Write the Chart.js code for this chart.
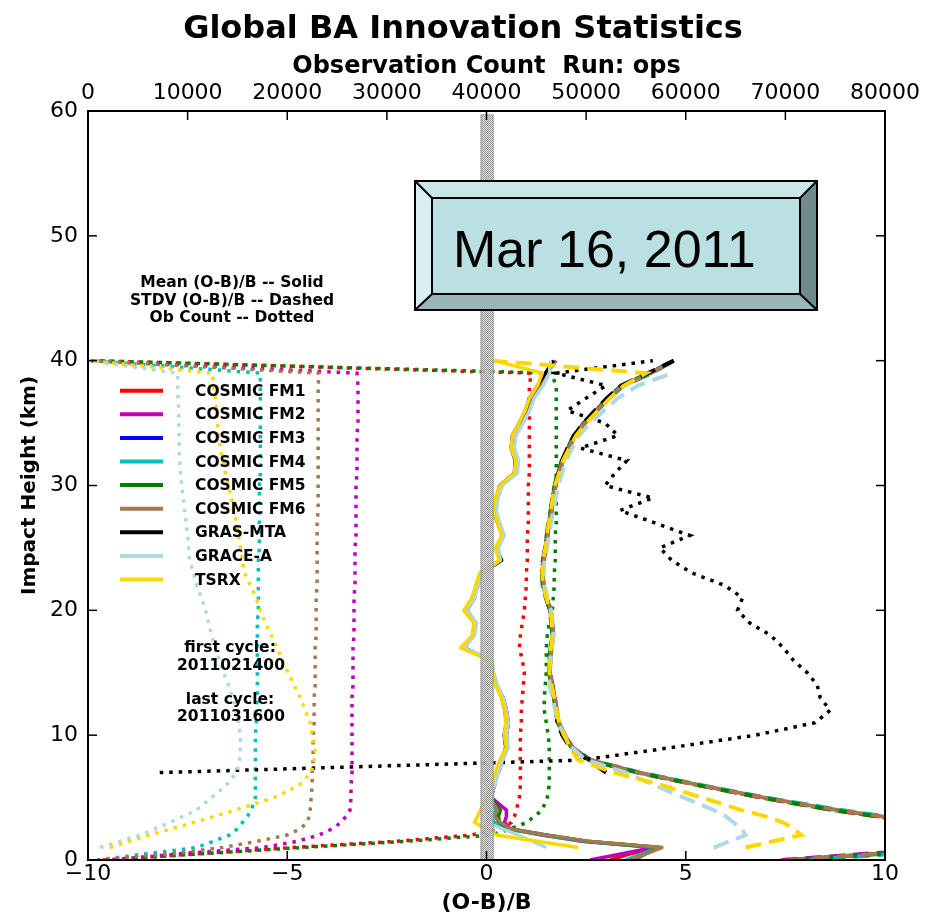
<!DOCTYPE html>
<html><head><meta charset="utf-8">
<script src="https://cdn.jsdelivr.net/npm/chart.js@4.4.1/dist/chart.umd.min.js"></script>
<style>html,body{margin:0;padding:0;background:#fff;}canvas{display:block;}</style>
</head><body>
<canvas id="c" width="938" height="916"></canvas>
<script>
// ---------- DATA ----------
// Impact height grid (km)
const heights = [0,0.5,1,1.5,2,2.5,3,3.5,4,5,6,7,8,9,10,11,12,13,14,15,16,17,18,19,20,21,22,23,24,25,26,27,28,29,30,31,32,33,34,35,36,37,38,39,40];

const satNames = ['COSMIC FM1','COSMIC FM2','COSMIC FM3','COSMIC FM4','COSMIC FM5','COSMIC FM6','GRAS-MTA','GRACE-A','TSRX'];

// Mean (O-B)/B
const meanFM1 = [3.1,3.6,4.3,2.5,1.45,0.55,0.3,0.25,0.3, 0.1,0.2,0.28,0.38,0.48,0.45,0.5,0.46,0.38,0.25,0.16,0.12,-0.58,-0.33,-0.28,-0.52,-0.33,-0.22,-0.12,0.34,0.26,0.42,0.3,0.22,0.27,0.38,0.74,0.76,0.66,0.7,0.88,1.02,1.12,1.32,1.5,1.72];
const meanFM2 = [2.6,3.4,4.2,2.4,1.4,0.6,0.45,0.5,0.5, 0.12,0.2,0.27,0.36,0.5,0.44,0.5,0.47,0.4,0.24,0.15,0.11,-0.6,-0.34,-0.3,-0.53,-0.34,-0.24,-0.13,0.35,0.25,0.4,0.31,0.21,0.26,0.36,0.73,0.75,0.64,0.69,0.86,1.0,1.1,1.3,1.48,1.75];
const meanFM3 = [];
const meanFM4 = [3.5,3.9,4.3,2.45,1.4,0.5,0.2,0.1,0.25, 0.08,0.18,0.27,0.37,0.49,0.46,0.51,0.48,0.39,0.26,0.16,0.12,-0.57,-0.32,-0.27,-0.5,-0.32,-0.22,-0.11,0.36,0.27,0.43,0.32,0.23,0.28,0.38,0.75,0.78,0.68,0.72,0.9,1.04,1.15,1.35,1.52,1.7];
const meanFM5 = [3.7,4.0,4.35,2.5,1.5,0.55,0.33,0.3,0.35, 0.1,0.19,0.28,0.37,0.49,0.45,0.5,0.47,0.39,0.25,0.16,0.11,-0.58,-0.33,-0.28,-0.52,-0.33,-0.23,-0.12,0.35,0.26,0.41,0.31,0.22,0.27,0.37,0.74,0.76,0.66,0.7,0.88,1.02,1.12,1.32,1.5,1.72];
const meanFM6 = [3.6,4.0,4.4,2.55,1.5,0.6,0.35,0.2,0.28, 0.09,0.2,0.29,0.38,0.5,0.46,0.5,0.47,0.39,0.25,0.17,0.12,-0.57,-0.32,-0.27,-0.51,-0.32,-0.22,-0.12,0.35,0.26,0.42,0.31,0.22,0.27,0.37,0.74,0.77,0.67,0.71,0.88,1.03,1.13,1.33,1.52,1.74];
const meanGRAS = [null,null,null,null,null,null,null,null,null, null,null,0.3,0.4,0.52,0.5,0.55,0.5,0.42,0.26,0.15,0.1,-0.55,-0.35,-0.28,-0.5,-0.3,-0.25,-0.1,0.38,0.25,0.4,0.28,0.18,0.25,0.33,0.7,0.72,0.62,0.65,0.82,0.98,1.08,1.28,1.48,1.68];
const meanGRACE = [null,null,1.5,null,0.8,null,0.0,null,0.1, 0.1,0.2,0.3,0.4,0.55,0.5,0.55,0.5,0.42,0.28,0.18,0.15,-0.55,-0.3,-0.25,-0.5,-0.3,-0.2,-0.1,0.35,0.3,0.45,0.33,0.24,0.29,0.4,0.78,0.8,0.7,0.74,0.92,1.08,1.2,1.42,1.58,1.6];
const meanTSRX = [null,null,2.3,null,0.25,null,-0.3,null,-0.15, 0.0,0.12,0.22,0.33,0.5,0.45,0.48,0.46,0.38,0.22,0.15,0.1,-0.65,-0.35,-0.32,-0.57,-0.37,-0.27,-0.17,0.32,0.22,0.38,0.28,0.18,0.22,0.33,0.7,0.73,0.62,0.65,0.82,0.97,1.08,1.28,1.4,0.2];

// STDV (O-B)/B
const stdvFM1 = [7.6,9.8,12,13.5,13,12,10.8,9.8,8.7, 6.9,5.3,3.8,2.6,2.15,1.95,1.8,1.75,1.7,1.64,1.58,1.58,1.62,1.66,1.64,1.6,1.5,1.42,1.4,1.42,1.48,1.52,1.56,1.62,1.66,1.72,1.8,1.9,2.05,2.2,2.45,2.75,3.05,3.4,4.1,4.7];
const stdvFM2 = [7.4,9.5,11.8,13.4,13.1,12.1,10.9,9.9,8.8, 6.95,5.35,3.85,2.62,2.16,1.96,1.81,1.76,1.71,1.65,1.59,1.59,1.63,1.67,1.65,1.61,1.51,1.43,1.41,1.43,1.49,1.53,1.57,1.63,1.67,1.73,1.81,1.91,2.06,2.21,2.46,2.76,3.06,3.42,4.12,4.68];
const stdvFM3 = [];
const stdvFM4 = [8.0,10.3,12.3,13.7,13.2,12.2,11.0,10.0,8.9, 7.0,5.4,3.85,2.6,2.14,1.95,1.8,1.75,1.7,1.64,1.58,1.58,1.62,1.66,1.64,1.6,1.5,1.42,1.4,1.42,1.48,1.52,1.57,1.63,1.67,1.73,1.82,1.92,2.07,2.22,2.47,2.78,3.08,3.45,4.15,4.7];
const stdvFM5 = [7.7,9.9,12,13.5,13,12,10.8,9.8,8.7, 6.9,5.3,3.8,2.58,2.14,1.94,1.79,1.74,1.69,1.63,1.57,1.57,1.61,1.65,1.63,1.59,1.49,1.41,1.39,1.41,1.47,1.51,1.55,1.61,1.65,1.71,1.79,1.89,2.04,2.19,2.44,2.74,3.04,3.38,4.08,4.72];
const stdvFM6 = [7.6,9.8,12.1,13.6,13.1,12.1,10.9,9.9,8.8, 6.95,5.35,3.82,2.62,2.17,1.97,1.82,1.77,1.72,1.66,1.6,1.6,1.64,1.68,1.66,1.62,1.52,1.44,1.42,1.44,1.5,1.54,1.58,1.64,1.68,1.74,1.82,1.92,2.07,2.22,2.47,2.77,3.07,3.42,4.12,4.7];
const stdvGRAS = [null,null,null,null,null,null,null,null,null, null,null,3.0,2.55,2.1,1.9,1.78,1.74,1.7,1.65,1.58,1.6,1.62,1.67,1.64,1.6,1.5,1.43,1.4,1.43,1.48,1.52,1.57,1.62,1.66,1.72,1.8,1.9,2.03,2.2,2.43,2.72,3.02,3.38,4.05,4.7];
const stdvGRACE = [null,null,5.7,6.1,6.5,6.4,6.2,6.0,5.7, 4.95,4.2,3.5,2.5,2.15,1.95,1.8,1.72,1.66,1.58,1.58,1.6,1.64,1.68,1.66,1.62,1.52,1.45,1.43,1.46,1.52,1.57,1.62,1.68,1.74,1.8,1.9,2.0,2.15,2.32,2.6,2.95,3.3,3.8,4.65,null];
const stdvTSRX = [null,null,6.5,7.2,7.9,7.7,7.45,7.0,6.4, 5.4,4.4,3.2,2.3,2.1,1.95,1.82,1.76,1.7,1.64,1.58,1.58,1.62,1.66,1.64,1.6,1.5,1.42,1.4,1.42,1.48,1.52,1.56,1.62,1.66,1.72,1.82,1.92,2.08,2.25,2.5,2.8,3.1,3.45,4.0,0.15];

// Observation count (top axis)
const countFM1 = [1500,11000,20500,31000,38500,41300,42500,42800,43000, 43300,43400,43400,43400,43400,43400,43500,43500,43600,43700,43800,43600,43300,43400,43600,43800,43900,44000,44000,44100,44100,44100,44200,44200,44200,44200,44300,44300,44300,44300,44300,44300,44300,44300,44500,500];
const countFM2 = [2500,9200,17600,21000,23200,24500,25400,25900,26300, 26400,26400,26500,26500,26500,26500,26500,26500,26500,26600,26600,26600,26600,26700,26700,26700,26700,26800,26800,26800,26800,26900,26900,26900,26900,26900,27000,27000,27000,27000,27100,27100,27100,27100,27000,300];
const countFM3 = [];
const countFM4 = [900,5900,10900,12600,14200,15000,15500,16000,16400, 16800,16800,16800,16800,16800,16800,16900,16900,17000,17000,17000,17000,17000,17000,17000,17100,17100,17100,17100,17100,17200,17200,17200,17200,17200,17200,17300,17300,17300,17300,17300,17300,17300,17300,17300,200];
const countFM5 = [1800,11500,21500,32000,40500,42400,44000,44800,45600, 46100,46300,46300,46300,46300,46200,46000,45800,45800,45900,46000,46000,46000,46100,46300,46600,46700,46800,46800,46900,46900,46900,47000,47000,47000,47000,47000,47000,47000,47000,47000,47000,47000,47000,46500,400];
const countFM6 = [900,8500,13500,17000,20000,21300,22000,22200,22300, 22400,22500,22500,22600,22600,22600,22700,22700,22700,22800,22800,22800,22800,22900,22900,22900,22900,23000,23000,23000,23000,23000,23000,23100,23100,23100,23100,23100,23100,23100,23100,23100,23100,23100,23200,300];
const countGRAS = [null,null,null,null,null,null,null,null,null, null,null,7200,49500,58500,67000,73000,74500,73500,73200,72200,70800,69800,68500,66400,65200,65700,63900,60600,58600,57400,60400,56900,53400,56700,51900,52900,54100,49400,53200,51900,48100,50000,52000,47000,56700];
const countGRACE = [null,null,1200,null,5300,null,8200,null,10900, 12400,13900,14900,15200,15300,15300,15100,14850,14500,14100,13600,13200,12800,12400,12100,11800,11400,10900,10600,10200,10100,10000,9850,9700,9550,9400,9300,9200,9150,9150,9100,9100,9050,9000,9000,100];
const countTSRX = [null,null,2200,null,6200,null,10600,null,14800, 18700,21200,22400,22700,22800,22500,22300,21800,21300,20700,20100,19500,19000,18400,17800,17300,16900,16300,15700,15500,15300,15100,14900,14600,14400,14100,13800,13500,13300,13100,13000,12900,12800,12600,12500,300];

// Axis tick settings and the reference band near zero
const xTicks = [-10, 10, 5];          // min, max, step  (O-B)/B
const countTicks = [0, 80000, 10000]; // min, max, step  observation count
const yTicks = [0, 60, 10];           // min, max, step  impact height
const zeroBand = [-0.15, 0.18];       // (O-B)/B extent of grey band
const zeroBandTop = 59.7;             // km
const mainTitle = 'Global BA Innovation Statistics';
const dateLabel = 'Mar 16, 2011';
const firstCycle = '2011021400';
const lastCycle = '2011031600';

// ---------- STYLE ----------
const satColors = ['#ff0000','#bf00bf','#0000ff','#00bfbf','#008000','#a57850','#000000','#add8e6','#ffd700'];
const means = [meanFM1,meanFM2,meanFM3,meanFM4,meanFM5,meanFM6,meanGRAS,meanGRACE,meanTSRX];
const stdvs = [stdvFM1,stdvFM2,stdvFM3,stdvFM4,stdvFM5,stdvFM6,stdvGRAS,stdvGRACE,stdvTSRX];
const counts = [countFM1,countFM2,countFM3,countFM4,countFM5,countFM6,countGRAS,countGRACE,countTSRX];

function pts(vals) {
  return heights.map((h, i) => (vals[i] == null ? null : { x: vals[i], y: h })).filter(Boolean);
}

const datasets = [];
let k = 0;
satNames.forEach((name, s) => {
  const c = satColors[s];
  datasets.push({ label: name + ' mean', data: pts(means[s]), xAxisID: 'x', borderColor: c, borderWidth: 3.5, showLine: true, pointRadius: 0, borderJoinStyle: 'round', order: 1000 - (k++) });
  datasets.push({ label: name + ' stdv', data: pts(stdvs[s]), xAxisID: 'x', borderColor: c, borderWidth: 4, borderDash: [16, 8], showLine: true, pointRadius: 0, order: 1000 - (k++) });
  datasets.push({ label: name + ' count', data: pts(counts[s]), xAxisID: 'x2', borderColor: c, borderWidth: 3.5, borderDash: [3.5, 6], showLine: true, pointRadius: 0, order: 1000 - (k++) });
});

const FONT = 'DejaVu Sans';
Chart.defaults.color = '#000';
Chart.defaults.font.family = FONT;

const anno = {
  id: 'anno',
  afterDatasetsDraw(chart) {
    const { ctx, chartArea: a, scales } = chart;
    const xs = scales.x, ys = scales.y, x2 = scales.x2;
    // grey checkered band
    const bx0 = xs.getPixelForValue(zeroBand[0]), bx1 = xs.getPixelForValue(zeroBand[1]);
    const by0 = ys.getPixelForValue(zeroBandTop), by1 = ys.getPixelForValue(0);
    const pc = document.createElement('canvas'); pc.width = 2; pc.height = 2;
    const p = pc.getContext('2d');
    p.fillStyle = '#dcdcdc'; p.fillRect(0, 0, 2, 2);
    p.fillStyle = '#8c8c8c'; p.fillRect(0, 0, 1, 1); p.fillRect(1, 1, 1, 1);
    ctx.save();
    ctx.globalAlpha = 0.9;
    ctx.fillStyle = ctx.createPattern(pc, 'repeat');
    ctx.fillRect(bx0, by0, bx1 - bx0, by1 - by0);
    ctx.globalAlpha = 0.6;
    ctx.strokeStyle = '#888'; ctx.lineWidth = 1;
    ctx.strokeRect(bx0 + 0.5, by0, bx1 - bx0 - 1, by1 - by0);
    ctx.restore();
    // frame and inward ticks
    ctx.save();
    ctx.strokeStyle = '#000';
    ctx.lineWidth = 2;
    ctx.strokeRect(a.left, a.top, a.right - a.left, a.bottom - a.top);
    ctx.lineWidth = 1.5;
    const tl = 9;
    const seg = (x0, y0, x1, y1) => { ctx.beginPath(); ctx.moveTo(x0, y0); ctx.lineTo(x1, y1); ctx.stroke(); };
    ys.ticks.forEach(t => { const y = ys.getPixelForValue(t.value); seg(a.left, y, a.left + tl, y); seg(a.right, y, a.right - tl, y); });
    xs.ticks.forEach(t => { const x = xs.getPixelForValue(t.value); seg(x, a.bottom, x, a.bottom - tl); });
    x2.ticks.forEach(t => { const x = x2.getPixelForValue(t.value); seg(x, a.top, x, a.top + tl); });
    ctx.restore();
  },
  afterDraw(chart) {
    const { ctx } = chart;
    ctx.save();
    // main title
    ctx.fillStyle = '#000';
    ctx.font = 'bold 32px "' + FONT + '"';
    ctx.textAlign = 'center';
    ctx.textBaseline = 'alphabetic';
    ctx.fillText(mainTitle, 463, 38);
    // annotation texts
    ctx.font = 'bold 15.5px "' + FONT + '"';
    ctx.textBaseline = 'middle';
    ctx.fillText('Mean (O-B)/B -- Solid', 232, 283);
    ctx.fillText('STDV (O-B)/B -- Dashed', 232, 301);
    ctx.fillText('Ob Count -- Dotted', 232, 318);
    // legend
    satNames.forEach((name, i) => {
      const y = 390.7 + i * 23.6;
      ctx.strokeStyle = satColors[i];
      ctx.lineWidth = 4;
      ctx.beginPath(); ctx.moveTo(120, y); ctx.lineTo(163, y); ctx.stroke();
      ctx.textAlign = 'left';
      ctx.fillText(name, 195, y + 1);
    });
    ctx.textAlign = 'center';
    ctx.fillText('first cycle:', 230, 648);
    ctx.fillText(firstCycle, 231, 666);
    ctx.fillText('last cycle:', 230, 700);
    ctx.fillText(lastCycle, 231, 717);
    // date box
    const L = 415, T = 181, R = 817, B = 310, l = 432, t = 198, r = 800, b = 294;
    const poly = (pts, col) => { ctx.beginPath(); ctx.moveTo(pts[0], pts[1]); for (let i = 2; i < pts.length; i += 2) ctx.lineTo(pts[i], pts[i + 1]); ctx.closePath(); ctx.fillStyle = col; ctx.fill(); };
    poly([L, T, R, T, r, t, l, t], '#c9e6e9');
    poly([L, T, l, t, l, b, L, B], '#d9eff1');
    poly([R, T, R, B, r, b, r, t], '#6f8b8c');
    poly([L, B, R, B, r, b, l, b], '#99b7b8');
    ctx.fillStyle = '#bbe0e4';
    ctx.fillRect(l, t, r - l, b - t);
    ctx.strokeStyle = '#000'; ctx.lineWidth = 2;
    ctx.strokeRect(L, T, R - L, B - T);
    ctx.strokeRect(l, t, r - l, b - t);
    const ln = (x0, y0, x1, y1) => { ctx.beginPath(); ctx.moveTo(x0, y0); ctx.lineTo(x1, y1); ctx.stroke(); };
    ln(L, T, l, t); ln(R, T, r, t); ln(R, B, r, b); ln(L, B, l, b);
    ctx.fillStyle = '#000';
    ctx.font = '52px "Liberation Sans"';
    ctx.textAlign = 'left';
    ctx.textBaseline = 'alphabetic';
    ctx.fillText(dateLabel, 453, 267);
    ctx.restore();
  }
};

const tickFont = { family: FONT, size: 22 };
new Chart(document.getElementById('c'), {
  type: 'scatter',
  data: { datasets },
  options: {
    responsive: false,
    animation: false,
    devicePixelRatio: 1,
    layout: { padding: { left: 0, right: 53, top: 0, bottom: 0 } },
    plugins: {
      legend: { display: false },
      tooltip: { enabled: false },
      title: { display: false }
    },
    scales: {
      x: {
        type: 'linear', position: 'bottom', min: xTicks[0], max: xTicks[1],
        ticks: { stepSize: xTicks[2], font: tickFont, color: '#000', padding: 1, maxRotation: 0, callback: v => (v < 0 ? '\u2212' + Math.abs(v) : String(v)) },
        grid: { display: false, drawTicks: false }, border: { display: false },
        title: { display: true, text: '(O-B)/B', color: '#000', font: { family: FONT, size: 22, weight: 'bold' }, padding: { top: 0, bottom: 0 } },
        afterFit: s => { s.height = 56; }
      },
      x2: {
        type: 'linear', axis: 'x', position: 'top', min: countTicks[0], max: countTicks[1],
        ticks: { stepSize: countTicks[2], font: tickFont, color: '#000', padding: 5, maxRotation: 0, callback: v => String(v) },
        grid: { display: false, drawTicks: false }, border: { display: false },
        title: { display: true, text: 'Observation Count  Run: ops', color: '#000', font: { family: FONT, size: 24, weight: 'bold' }, padding: { top: 52, bottom: 0 } },
        afterFit: s => { s.height = 111; }
      },
      y: {
        type: 'linear', position: 'left', min: yTicks[0], max: yTicks[1],
        ticks: { stepSize: yTicks[2], font: tickFont, color: '#000', padding: 10 },
        grid: { display: false, drawTicks: false }, border: { display: false },
        title: { display: true, text: 'Impact Height (km)', color: '#000', font: { family: FONT, size: 20, weight: 'bold' }, padding: { top: 18, bottom: 0 } },
        afterFit: s => { s.width = 88; }
      }
    }
  },
  plugins: [anno]
});
</script>
</body></html>
